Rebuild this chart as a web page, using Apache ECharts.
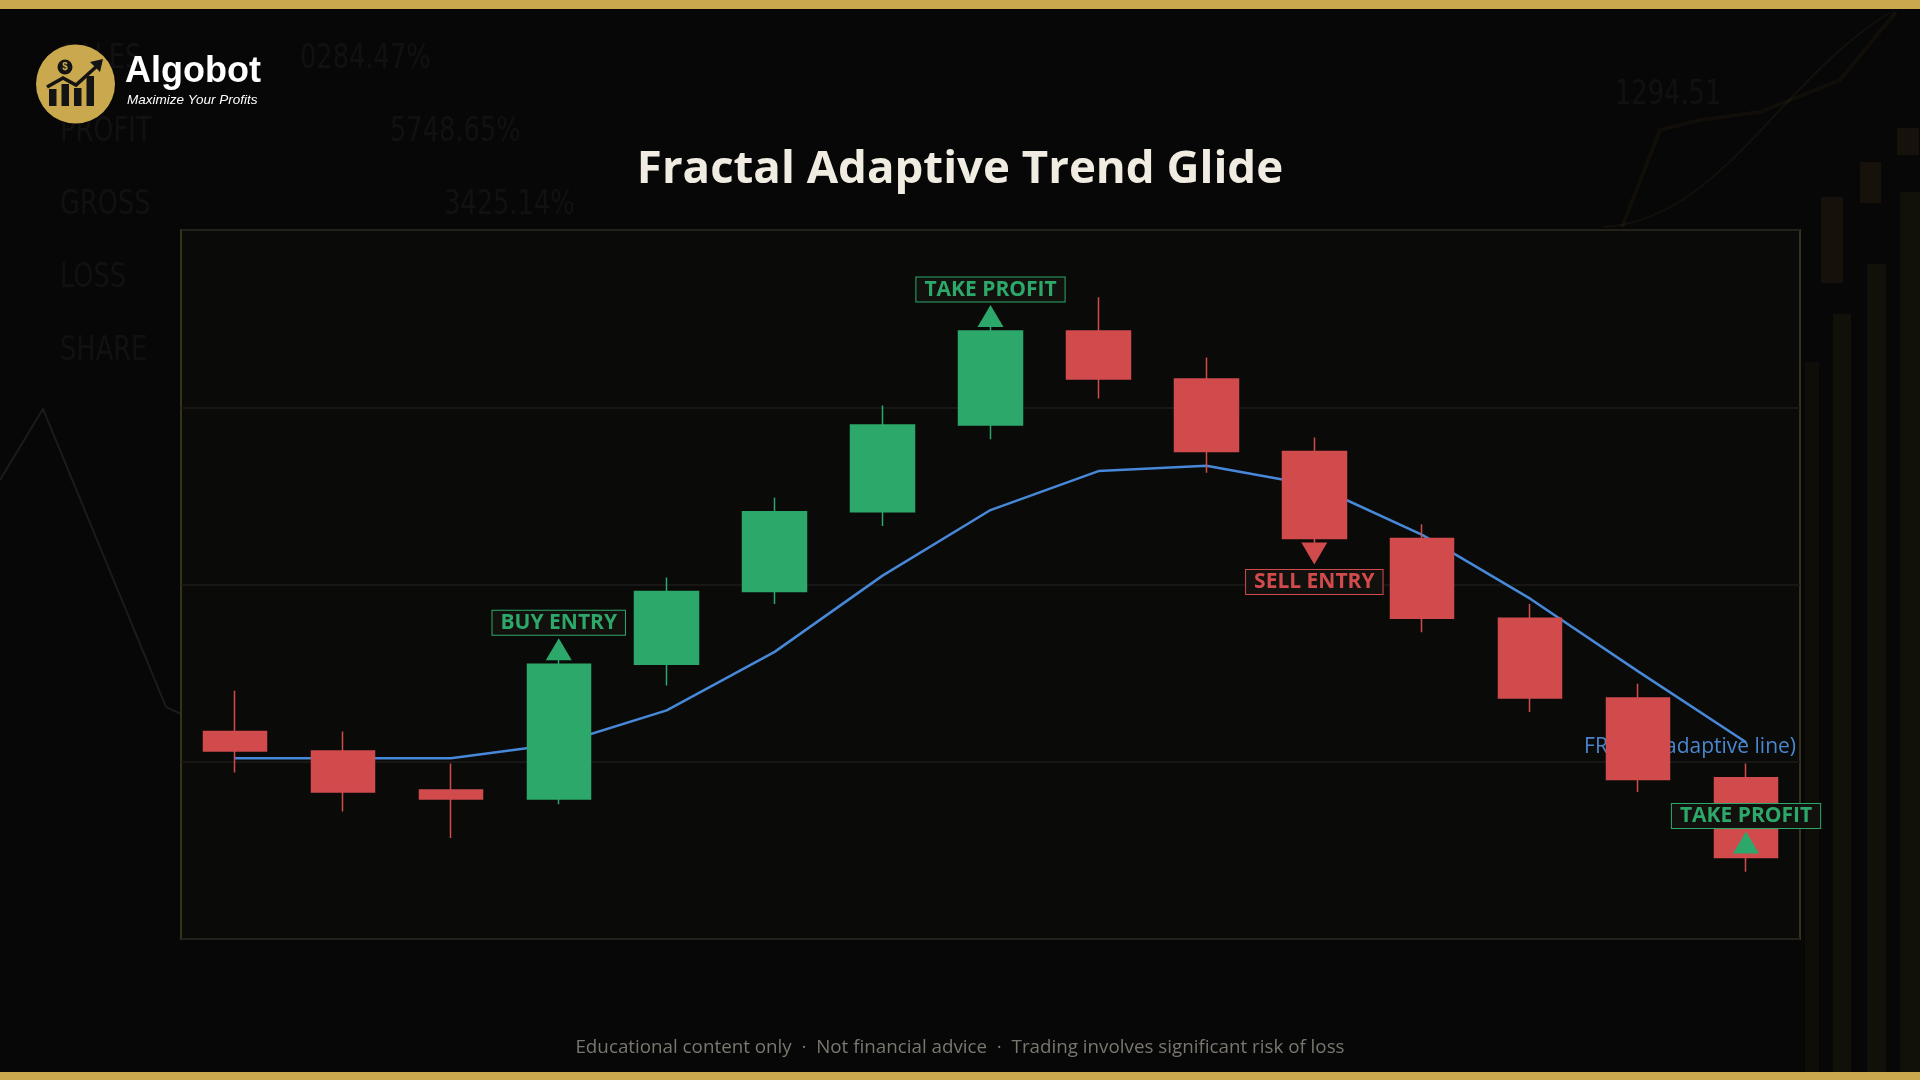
<!DOCTYPE html>
<html>
<head>
<meta charset="utf-8">
<script src="https://cdn.jsdelivr.net/npm/echarts@6/dist/echarts.min.js"></script>
<style>
  html, body { margin: 0; padding: 0; background: #070707; }
  #chart { width: 1920px; height: 1080px; }
</style>
</head>
<body>
<div id="chart"></div>
<script>
// ---------------- data ----------------
const categories = ['1','2','3','4','5','6','7','8','9','10','11','12','13','14','15'];
const opens  = [111.7, 110.6, 108.4, 107.9, 115.5, 119.6, 124.1, 129.0, 134.3, 131.6, 127.5, 122.6, 118.1, 113.6, 109.1];
const closes = [110.6, 108.3, 107.9, 115.5, 119.6, 124.1, 129.0, 134.3, 131.6, 127.5, 122.6, 118.1, 113.6, 109.0, 104.6];
const lows   = [109.4, 107.2, 105.7, 107.6, 114.3, 118.9, 123.3, 128.2, 130.5, 126.3, 122.3, 117.3, 112.8, 108.3, 103.8];
const highs  = [114.0, 111.7, 109.9, 115.9, 120.4, 124.9, 130.1, 134.7, 136.2, 132.8, 128.3, 123.4, 118.9, 114.4, 109.9];
const frama  = [110.2, 110.2, 110.2, 111.0, 112.9, 116.2, 120.5, 124.2, 126.4, 126.7, 125.6, 122.8, 119.2, 115.1, 111.1];

const signalIndex = [3, 7, 10, 14];
const signalKind  = ['buy', 'tp', 'sell', 'tpShort'];
const signalText  = ['BUY ENTRY', 'TAKE PROFIT', 'SELL ENTRY', 'TAKE PROFIT'];

const yMin = 100, yMax = 140, yInterval = 10;

const titleText = 'Fractal Adaptive Trend Glide';
const lineName = 'FRAMA (adaptive line)';
const footerText = 'Educational content only  \u00B7  Not financial advice  \u00B7  Trading involves significant risk of loss';

// ---------------- styles ----------------
const GREEN = '#2da86b';
const RED = '#d14b4d';
const BLUE = '#4788d8';
const GOLD = '#c9a84e';

const candleData = categories.map((_, i) => [opens[i], closes[i], lows[i], highs[i]]);

const signalData = signalIndex.map((idx, k) => {
  const kind = signalKind[k];
  const isSell = kind === 'sell';
  const anchor = (kind === 'buy' || kind === 'tp')
    ? Math.max(opens[idx], closes[idx])
    : Math.min(opens[idx], closes[idx]);
  const col = isSell ? RED : GREEN;
  return {
    value: [categories[idx], anchor],
    symbol: isSell ? 'path://M0,0L26,0L13,22Z' : 'triangle',
    symbolOffset: [0, isSell ? 15 : -15],
    itemStyle: { color: col, opacity: 1 },
    label: {
      show: true,
      formatter: signalText[k],
      position: isSell ? 'bottom' : 'top',
      distance: isSell ? 5.5 : 3.5,
      color: col,
      fontFamily: '"Open Sans", sans-serif',
      fontWeight: 'bold',
      fontSize: 21,
      lineHeight: 22,
      backgroundColor: '#13110d',
      borderColor: col,
      borderWidth: 1,
      padding: [1, 8, 1, 8]
    }
  };
});

const ghostFont = '300 34px "Liberation Sans Narrow", "DejaVu Sans Condensed", "Noto Sans", sans-serif';
const ghostFill = 'rgba(255,255,255,0.045)';
function ghost(text, x, y) {
  return { type: 'text', x: x, y: y, z: -20, scaleX: 0.84,
    style: { text: text, font: ghostFont, fill: ghostFill, textVerticalAlign: 'middle' } };
}

const graphic = [
  // gold bars
  { type: 'rect', left: 0, top: 0, z: -10, shape: { width: 1920, height: 9 }, style: { fill: GOLD } },
  { type: 'rect', left: 0, top: 1072, z: -10, shape: { width: 1920, height: 8 }, style: { fill: GOLD } },
  // ghost background texts
  ghost('SALES', 60, 59),
  ghost('0284.47%', 300, 59),
  ghost('PROFIT', 60, 132),
  ghost('5748.65%', 390, 132),
  ghost('GROSS', 60, 205),
  ghost('3425.14%', 444, 205),
  ghost('LOSS', 60, 278),
  ghost('SHARE', 60, 351),
  ghost('1294.51', 1615, 95),
  { type: 'polyline', z: -20, shape: { points: [[0, 480], [43, 409], [166, 707], [181, 714]] }, style: { stroke: '#1b1b1b', lineWidth: 2, fill: null } },
  // faint right side bars / candles
  { type: 'rect', z: -20, shape: { x: 1833, y: 314, width: 18, height: 760 }, style: { fill: 'rgba(150,140,40,0.07)' } },
  { type: 'rect', z: -20, shape: { x: 1867, y: 264, width: 19, height: 810 }, style: { fill: 'rgba(150,140,40,0.07)' } },
  { type: 'rect', z: -20, shape: { x: 1900, y: 192, width: 20, height: 880 }, style: { fill: 'rgba(150,140,40,0.07)' } },
  { type: 'rect', z: -20, shape: { x: 1805, y: 362, width: 14, height: 712 }, style: { fill: 'rgba(150,140,40,0.05)' } },
  { type: 'rect', z: -20, shape: { x: 1897, y: 128, width: 22, height: 27 }, style: { fill: 'rgba(200,140,60,0.08)' } },
  { type: 'rect', z: -20, shape: { x: 1860, y: 162, width: 21, height: 41 }, style: { fill: 'rgba(200,140,60,0.08)' } },
  { type: 'rect', z: -20, shape: { x: 1821, y: 197, width: 22, height: 86 }, style: { fill: 'rgba(200,140,60,0.08)' } },
  { type: 'polyline', z: -20, shape: { points: [[1622, 227], [1660, 130], [1700, 120], [1760, 112], [1840, 80], [1896, 12]] },
    style: { stroke: 'rgba(210,160,60,0.06)', lineWidth: 4, fill: null, shadowBlur: 12, shadowColor: 'rgba(220,160,50,0.25)' } },
  { type: 'bezierCurve', z: -20, shape: { x1: 1604, y1: 227, x2: 1889, y2: 13, cpx1: 1720, cpy1: 220, cpx2: 1780, cpy2: 80 },
    style: { stroke: 'rgba(200,170,80,0.06)', lineWidth: 2, fill: null } },
  // title
  { type: 'text', x: 960, y: 169.5, z: 10, style: { text: titleText, font: 'bold 45.6px "Open Sans", sans-serif', fill: '#f1ece1', textAlign: 'center', textVerticalAlign: 'middle' } },
  // footer
  { type: 'text', x: 960, y: 1048, z: 10, style: { text: footerText, font: '18.8px "Open Sans", sans-serif', fill: '#7a776f', textAlign: 'center', textVerticalAlign: 'middle' } },
  // logo
  { type: 'circle', z: 10, shape: { cx: 75.5, cy: 84, r: 39.5 }, style: { fill: GOLD } },
  { type: 'rect', z: 11, shape: { x: 49, y: 89, width: 7.5, height: 17 }, style: { fill: '#141414' } },
  { type: 'rect', z: 11, shape: { x: 61.5, y: 84, width: 7.5, height: 22 }, style: { fill: '#141414' } },
  { type: 'rect', z: 11, shape: { x: 74, y: 88, width: 7.5, height: 18 }, style: { fill: '#141414' } },
  { type: 'rect', z: 11, shape: { x: 86.5, y: 76, width: 7.5, height: 30 }, style: { fill: '#141414' } },
  { type: 'polyline', z: 12, shape: { points: [[47, 87], [63, 78], [76, 85], [97, 66]] }, style: { stroke: '#141414', lineWidth: 3.5, fill: null, lineJoin: 'miter' } },
  { type: 'polygon', z: 12, shape: { points: [[103, 59], [100, 72], [90, 62]] }, style: { fill: '#141414' } },
  { type: 'circle', z: 12, shape: { cx: 65, cy: 67, r: 7.5 }, style: { fill: '#141414' } },
  { type: 'text', x: 65, y: 67.5, z: 13, style: { text: '$', font: 'bold 10px "Liberation Sans", Arial, sans-serif', fill: GOLD, textAlign: 'center', textVerticalAlign: 'middle' } },
  { type: 'text', x: 125, y: 72, z: 10, style: { text: 'Algobot', font: 'bold 36px "Liberation Sans", Arial, sans-serif', fill: '#ffffff', textVerticalAlign: 'middle' } },
  { type: 'text', x: 127, y: 100, z: 10, style: { text: 'Maximize Your Profits', font: 'italic 500 13.5px "Liberation Sans", Arial, sans-serif', fill: '#ffffff', textVerticalAlign: 'middle' } }
];

const chart = echarts.init(document.getElementById('chart'), null, { renderer: 'canvas', width: 1920, height: 1080 });

chart.setOption({
  backgroundColor: '#070707',
  animation: false,
  graphic: graphic,
  grid: {
    left: 181, right: 120, top: 230, bottom: 141,
    show: true,
    backgroundColor: '#0a0a09',
    borderColor: '#37321f',
    borderWidth: 2
  },
  xAxis: {
    type: 'category',
    data: categories,
    boundaryGap: true,
    axisLine: { show: false },
    axisTick: { show: false },
    axisLabel: { show: false },
    splitLine: { show: false }
  },
  yAxis: {
    type: 'value',
    min: yMin, max: yMax, interval: yInterval,
    axisLine: { show: false },
    axisTick: { show: false },
    axisLabel: { show: false },
    splitLine: { show: true, lineStyle: { color: '#1f1d1a', width: 1.5 } }
  },
  series: [
    {
      name: lineName,
      type: 'line',
      data: frama,
      z: 1,
      symbol: 'none',
      smooth: false,
      lineStyle: { color: BLUE, width: 2.5 },
      markPoint: {
        z: 1,
        silent: true,
        symbol: 'circle',
        symbolSize: 0,
        data: [{ coord: [categories[categories.length - 1], frama[frama.length - 1]], value: 0 }],
        label: {
          show: true,
          formatter: lineName,
          position: [50, 5],
          align: 'right',
          verticalAlign: 'middle',
          color: '#4a86cf',
          fontSize: 21,
          fontFamily: '"Open Sans", sans-serif'
        }
      }
    },
    {
      type: 'candlestick',
      data: candleData,
      z: 3,
      barWidth: 64,
      itemStyle: {
        color: GREEN,
        color0: RED,
        borderColor: GREEN,
        borderColor0: RED,
        borderWidth: 1.5
      }
    },
    {
      type: 'scatter',
      data: signalData,
      z: 4,
      symbolSize: [26, 22],
      silent: true
    }
  ]
});
</script>
</body>
</html>
